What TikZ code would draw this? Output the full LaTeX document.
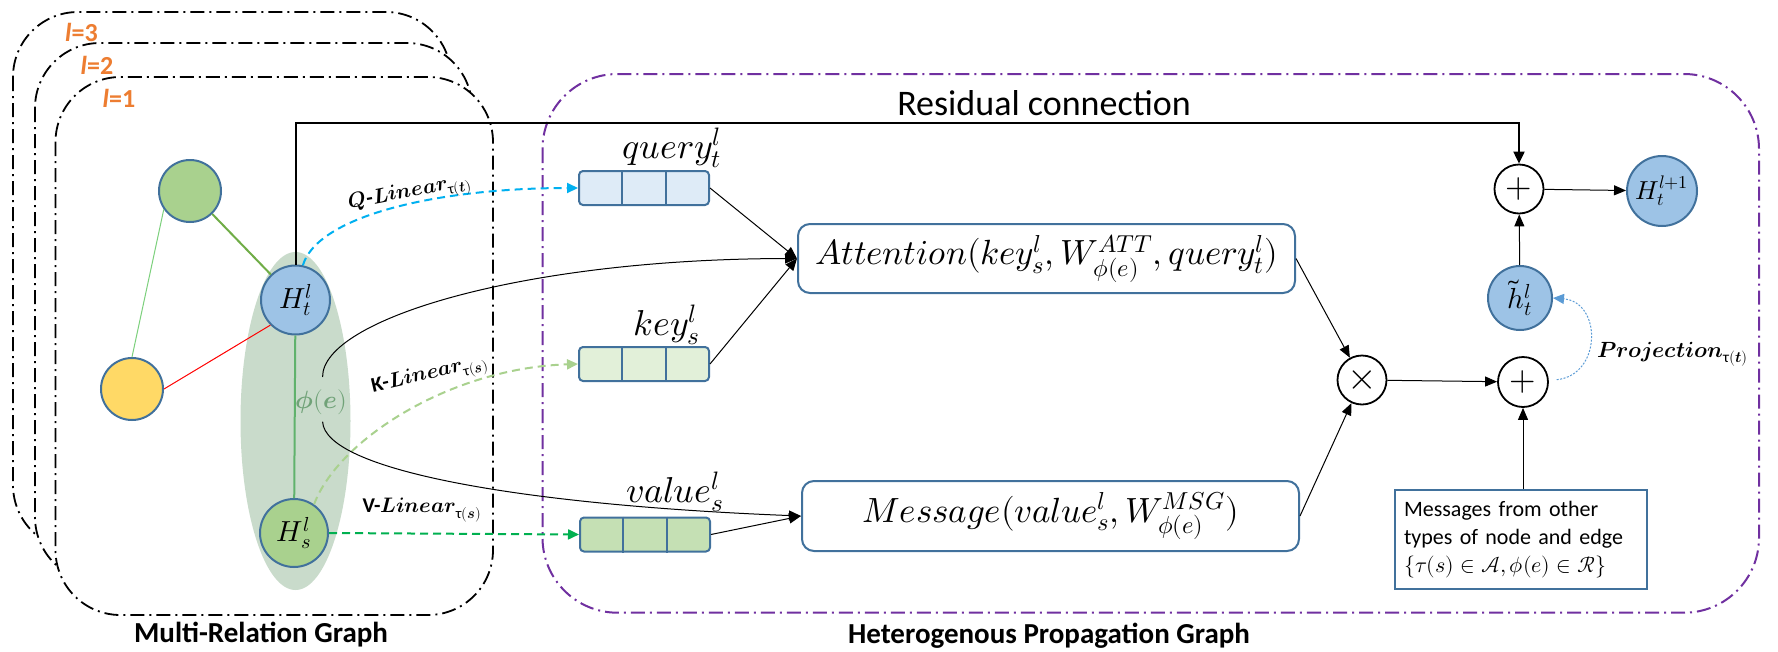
\documentclass[tikz,border=0pt]{standalone}
\usepackage{amsmath}
\usepackage{fontspec}
\usepackage{unicode-math}
\setmainfont{Carlito}
\setmathfont{Latin Modern Math}
\usetikzlibrary{arrows.meta,calc}
\definecolor{bordc}{HTML}{41719C}
\definecolor{nblue}{HTML}{9DC3E6}
\definecolor{ngreen}{HTML}{A9D18E}
\definecolor{nyellow}{HTML}{FFD966}
\definecolor{qfill}{HTML}{DEEBF7}
\definecolor{kfill}{HTML}{E2F0D9}
\definecolor{vfill}{HTML}{C5E0B4}
\definecolor{ellc}{RGB}{201,219,203}
\definecolor{phic}{RGB}{112,162,120}
\definecolor{lorange}{HTML}{ED7D31}
\definecolor{hpurple}{HTML}{7030A0}
\definecolor{qcyan}{HTML}{00B0F0}
\definecolor{kgreen}{HTML}{A9D18E}
\definecolor{vgreen}{HTML}{00B050}
\definecolor{pblue}{HTML}{5B9BD5}
\definecolor{edgeA}{HTML}{70AD47}
\definecolor{edgeB}{RGB}{124,208,124}
\definecolor{edgeC}{RGB}{96,178,108}
\tikzset{
  lbox/.style={draw=black, line width=1.8pt, fill=white, rounded corners=65pt,
    dash pattern=on 14pt off 5pt on 2pt off 5pt},
  pbox/.style={draw=hpurple, line width=2pt, rounded corners=75pt,
    dash pattern=on 14pt off 5pt on 2pt off 5pt},
  gnode/.style={circle, inner sep=0pt, draw=bordc, line width=2pt},
  opnode/.style={circle, inner sep=0pt, draw=black, line width=1.8pt, fill=white},
  rbox/.style={draw=bordc, line width=2pt, rounded corners=12pt, fill=white, inner sep=0pt},
  vecbox/.style={draw=bordc, line width=2pt, rounded corners=4pt, inner sep=0pt,
    minimum width=130pt, minimum height=34pt},
  arr/.style={-{Triangle[length=12pt,width=10pt]}, line width=1pt},
  darr/.style={-{Triangle[length=11pt,width=10pt]}, line width=2pt, dash pattern=on 8pt off 5pt},
  fsz/.style={font=\fontsize{#1pt}{#1pt}\selectfont},
  bfsz/.style={font=\fontsize{#1pt}{#1pt}\selectfont\bfseries}
}
\begin{document}
\begin{tikzpicture}[x=1pt,y=-1pt]
\useasboundingbox (0,0) rectangle (1778,651);

% layer boxes
\draw[lbox] (13,12) rectangle (451,550);
\draw[lbox] (35,43) rectangle (472,582);
\draw[lbox] (55.5,77) rectangle (493,615);
\node[bfsz=26, text=lorange] (l3) at (81.5,32) {\textit{l}=3};
\node[bfsz=26, text=lorange] (l2) at (97,65) {\textit{l}=2};
\node[bfsz=26, text=lorange] (l1) at (119,98) {\textit{l}=1};

% purple box
\draw[pbox] (542.5,74) rectangle (1759,612.7);

% shaded ellipse
\fill[ellc] (295.5,421) ellipse [x radius=55pt, y radius=169pt];

% graph nodes
\node[gnode, fill=ngreen, minimum size=62pt] (g1) at (190,191) {};
\node[gnode, fill=nyellow, minimum size=62pt] (y1) at (132,389) {};
\node[gnode, fill=nblue, minimum size=69pt, fsz=29] (Ht) at (295.5,300) {$H_t^l$};
\node[gnode, fill=ngreen, minimum size=68pt, fsz=29] (Hs) at (294,533) {$H_s^l$};

\draw[edgeA, line width=2pt] (g1) -- (Ht);
\draw[edgeB, line width=1pt] (g1.215) -- (y1.north);
\draw[red, line width=1pt] (y1.east) -- (Ht.225);
\draw[edgeC, line width=2pt] (Ht) -- (Hs);

\node[fsz=25, text=phic] (phi) at (321.5,402) {$\symbfit{\phi}(\symbfit{e})$};
\coordinate (phiTop) at (322.6,377);
\coordinate (phiBot) at (322.6,421.7);

% vectors
\node[vecbox, fill=qfill] (query) at (644,188) {};
\node[vecbox, fill=kfill] (key) at (644,364) {};
\node[vecbox, fill=vfill] (value) at (645,534.5) {};
\foreach \v in {query,key,value}{
  \draw[bordc, line width=2pt] ($(\v.north west)!1/3!(\v.north east)$) -- ($(\v.south west)!1/3!(\v.south east)$);
  \draw[bordc, line width=2pt] ($(\v.north west)!2/3!(\v.north east)$) -- ($(\v.south west)!2/3!(\v.south east)$);
}
\node[fsz=36] (qlab) at (672,148) {$query_t^l$};
\node[fsz=36] (klab) at (667,325) {$key_s^l$};
\node[fsz=36] (vlab) at (675,492) {$value_s^l$};

% big boxes
\node[rbox, minimum width=497pt, minimum height=69pt, fsz=35] (att) at (1046.5,258.5)
  {$Attention(key_s^l,W_{\phi(e)}^{ATT},query_t^l)$};
\node[rbox, minimum width=497pt, minimum height=70pt, fsz=35] (msg) at (1050.5,516)
  {$Message(value_s^l,W_{\phi(e)}^{MSG})$};

% operators
\node[opnode, minimum size=49pt, fsz=38] (times) at (1362,380) {$\times$};
\node[opnode, minimum size=50pt, fsz=34] (plusB) at (1523,382) {$+$};
\node[opnode, minimum size=49pt, fsz=34] (plusT) at (1519,189) {$+$};
\node[gnode, fill=nblue, minimum size=64pt, fsz=29] (htil) at (1520,298) {$\tilde{h}_t^l$};
\node[gnode, fill=nblue, minimum size=70pt, fsz=26] (Hn) at (1662,191) {$H_t^{l+1}$};

\node[draw=bordc, line width=2pt, minimum width=252pt, minimum height=99pt,
  text width=234pt, align=left, inner xsep=9pt, inner ysep=0pt,
  font=\fontsize{22pt}{28pt}\selectfont] (msgs) at (1521,539.5)
  {Messages from other\\types of node and edge\\$\{\tau(s)\in\mathcal{A},\phi(e)\in\mathcal{R}\}$};

% residual connection
\coordinate (rc) at (295.5,122.7);
\draw[line width=2pt, -{Triangle[length=12pt,width=11pt]}] (Ht.north) -- (rc) -| (plusT.north);
\node[fsz=36, anchor=base] (rlab) at (1044,115) {Residual connection};

% dashed linear arrows
\draw[darr, qcyan] (Ht.78) .. controls (318,215) and (440,188) .. (query.west);
\node[fsz=21, rotate=11] (qlin) at (410,194) {$\symbfit{Q}$\textbf{-}$\symbfit{Linear}_{\text{τ}(\symbfit{t})}$};
\draw[darr, kgreen] (Hs.55) .. controls (338,440) and (450,368) .. (key.west);
\node[fsz=21, rotate=13] (klin) at (430,376) {\textbf{K-}$\symbfit{Linear}_{\text{τ}(\symbfit{s})}$};
\draw[darr, vgreen] (Hs.east) -- (value.west);
\node[fsz=21] (vlin) at (422,510) {\textbf{V-}$\symbfit{Linear}_{\text{τ}(\symbfit{s})}$};

% phi curves
\draw[arr] (phiTop) .. controls (322,320) and (520,259) .. (att.west);
\draw[arr] (phiBot) .. controls (325,470) and (520,505) .. (msg.west);

% vector arrows
\draw[arr] (query.east) -- (att.west);
\draw[arr] (key.east) -- (att.west);
\draw[arr] (value.east) -- (msg.west);

% right part arrows
\draw[arr] (att.east) -- (times);
\draw[arr] (msg.east) -- (times);
\draw[arr] (times) -- (plusB);
\draw[arr] (msgs.north -| plusB) -- (plusB);
\draw[arr] (htil) -- (plusT);
\draw[arr] (plusT) -- (Hn);
\coordinate (pst) at (1556.7,379.7);
\draw[pblue, line width=1pt, dash pattern=on 2pt off 1.5pt, -{Triangle[length=11pt,width=10pt]}]
  (pst) .. controls (1602,375) and (1602,302) .. (htil.east);
\node[fsz=22, anchor=base west] (plab) at (1594,357) {$\symbfit{Projection}_{\text{τ}(\symbfit{t})}$};

% titles
\node[bfsz=29, anchor=base] (t1) at (261,642.7) {Multi-Relation Graph};
\node[bfsz=29, anchor=base] (t2) at (1049,643) {Heterogenous Propagation Graph};
\end{tikzpicture}
\end{document}
